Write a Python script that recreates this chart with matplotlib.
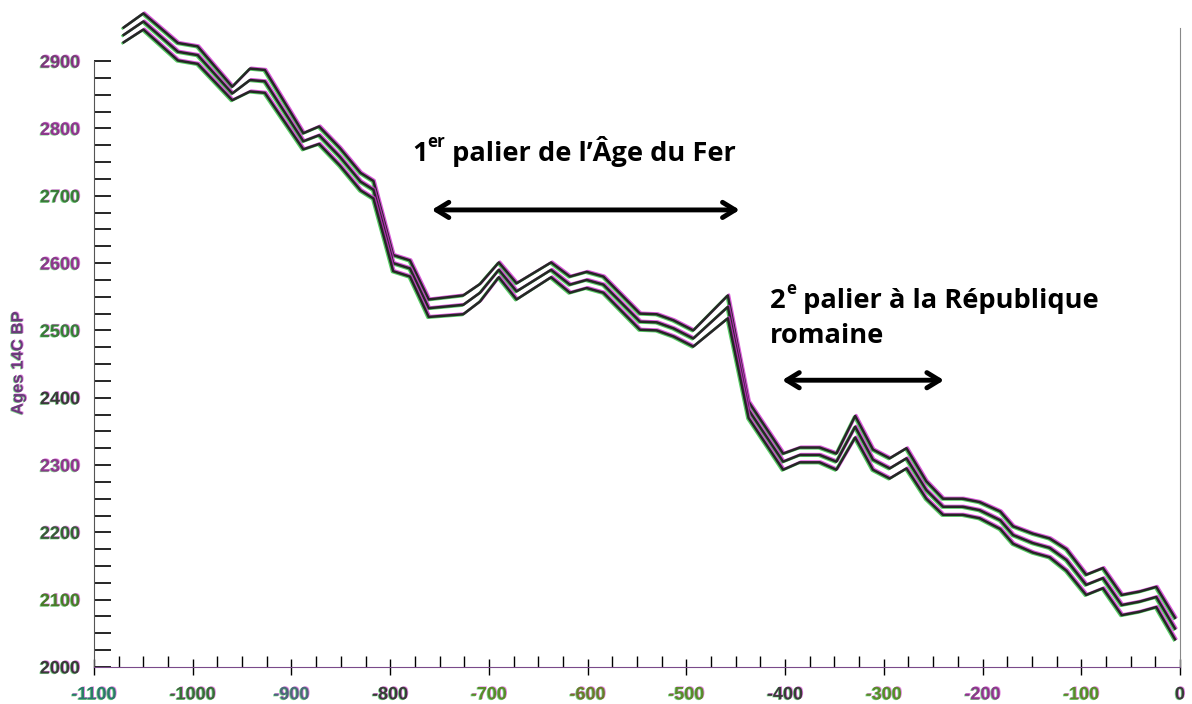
import numpy as np
import matplotlib.pyplot as plt
import matplotlib.patheffects as pe
from matplotlib.ticker import MultipleLocator

# calibration curve, 1st millennium BC (calendar year, 14C age BP, 1 sigma)
years = [-1070, -1050, -1015, -995, -960, -942, -927, -888, -872, -851,
         -830, -817, -797, -780, -761, -726, -709, -690, -672, -637,
         -618, -601, -584, -547, -530, -513, -493, -458, -437, -402,
         -385, -365, -348, -329, -311, -294, -277, -257, -240, -220,
         -203, -182, -169, -149, -132, -115, -95, -78, -59, -41,
         -24, -5]
age_bp = [2939, 2959, 2914, 2909, 2852, 2872, 2870, 2781, 2790, 2758,
          2721, 2709, 2600, 2592, 2533, 2538, 2556, 2590, 2558, 2590,
          2568, 2575, 2568, 2513, 2512, 2503, 2488, 2535, 2382, 2305,
          2315, 2315, 2305, 2357, 2308, 2295, 2310, 2263, 2238, 2238,
          2233, 2218, 2196, 2184, 2177, 2159, 2122, 2132, 2092, 2097,
          2104, 2057]
sigma = [11, 12, 13, 13, 10, 17, 17, 12, 13, 13,
         13, 13, 12, 12, 13, 14, 13, 11, 12, 11,
         12, 12, 12, 12, 12, 12, 12, 17, 12, 12,
         11, 11, 12, 16, 15, 15, 15, 13, 12, 12,
         12, 13, 13, 14, 14, 16, 15, 15, 15, 15,
         15, 16]

y_ticks = [2000, 2100, 2200, 2300, 2400, 2500, 2600, 2700, 2800, 2900]
x_ticks = [-1100, -1000, -900, -800, -700, -600, -500, -400, -300, -200, -100, 0]

MAGENTA = "#d030d0"
GREEN = "#30c040"

years = np.array(years)
age_bp = np.array(age_bp)
sigma = np.array(sigma)

line_fx = [pe.SimpleLineShadow(offset=(0.8, 0.6), shadow_color=MAGENTA, alpha=0.8),
           pe.SimpleLineShadow(offset=(-0.8, -0.6), shadow_color=GREEN, alpha=0.8),
           pe.Normal()]
text_fx = [pe.SimplePatchShadow(offset=(0.6, 0.4), shadow_rgbFace=MAGENTA, alpha=0.6),
           pe.SimplePatchShadow(offset=(-0.6, -0.4), shadow_rgbFace=GREEN, alpha=0.6),
           pe.Normal()]

fig = plt.figure(figsize=(11.92, 7.04), dpi=100)
ax = fig.add_axes([0.0789, 0.0526, 0.911, 0.937])

for curve in (age_bp + sigma, age_bp, age_bp - sigma):
    ax.plot(years, curve, color="#262626", lw=1.8, path_effects=line_fx, zorder=3)

ax.set_xlim(-1100, 0)
ax.set_ylim(2000, 2980)

# axes
ax.spines["top"].set_visible(False)
ax.spines["left"].set_bounds(2000, 2900)
ax.spines["left"].set_color("#555555")
ax.spines["bottom"].set_color("#7a4a8a")
ax.spines["right"].set_color("#888888")
ax.spines["right"].set_linewidth(0.8)
ax.spines["right"].set_bounds(2000, 2950)

ax.set_xticks(x_ticks)
ax.set_yticks(y_ticks)
ax.xaxis.set_minor_locator(MultipleLocator(25))
ax.yaxis.set_minor_locator(plt.FixedLocator(np.arange(2025, 2900, 25)))
ax.tick_params(axis="y", which="both", direction="in", length=12, width=1.2, pad=10, right=False)
ax.tick_params(axis="x", which="major", direction="inout", length=12, width=1, pad=8)
ax.tick_params(axis="x", which="minor", direction="in", length=8, width=1, top=False)

tick_cols = ["#b060c0", "#80c060", "#8a8a8a", "#c060b0", "#60b0a0", "#9a70a0"]
for i, t in enumerate(ax.yaxis.get_minor_ticks() + ax.yaxis.get_major_ticks()):
    t.tick1line.set_color(tick_cols[i % len(tick_cols)])
for t in ax.xaxis.get_minor_ticks() + ax.xaxis.get_major_ticks():
    t.tick1line.set_color("#555555")

y_label_cols = ["#3a3a3a", "#4a7a2a", "#3a5a3a", "#8a3a8a", "#3a3a3a",
                "#3a7a3a", "#8a3a8a", "#3a7a3a", "#8a3a8a", "#7a3a7a"]
x_label_cols = ["#2a7a6a", "#3a6a3a", "#4a6a7a", "#3a3a3a", "#5a8a2a", "#6a7a2a",
                "#5a8a2a", "#3a3a3a", "#5a8a2a", "#8a3a8a", "#5a8a2a", "#3a3a3a"]
ax.set_yticklabels([str(v) for v in y_ticks])
ax.set_xticklabels([str(v) for v in x_ticks])
for lab, c in zip(ax.get_yticklabels(), y_label_cols):
    lab.set(fontsize=13, fontweight="bold", color=c, family="Liberation Sans", path_effects=text_fx)
for lab, c in zip(ax.get_xticklabels(), x_label_cols):
    lab.set(fontsize=13, fontweight="bold", color=c, family="Liberation Sans", path_effects=text_fx)

ax.set_ylabel("Ages 14C BP", fontsize=12, fontweight="bold", color="#6a3a7a",
              family="Liberation Sans", path_effects=text_fx)
ax.yaxis.set_label_coords(-0.063, 0.46)

NOTE_FONT = ["Open Sans", "DejaVu Sans"]
NOTE_SIZE = 19.6


def superscript_label(x, y, base, sup, rest, size=NOTE_SIZE):
    kw = dict(fontsize=size, fontweight="bold", family=NOTE_FONT, color="black")
    t1 = ax.text(x, y, base, va="bottom", ha="left", **kw)
    t2 = ax.annotate(sup, xy=(1, 0.6), xycoords=t1, va="bottom", ha="left",
                     **{**kw, "fontsize": size * 0.62})
    ax.annotate(rest, xy=(1, 0), xycoords=(t2, t1), va="bottom", ha="left", **kw)


superscript_label(-778, 2743, "1", "er", " palier de l\u2019\u00c2ge du Fer")
superscript_label(-415, 2525, "2", "e", " palier \u00e0 la R\u00e9publique")
ax.text(-415, 2473, "romaine", va="bottom", ha="left", fontsize=NOTE_SIZE, fontweight="bold",
        family=NOTE_FONT, color="black")

arrow = dict(arrowstyle="<->,head_length=0.9,head_width=0.55", lw=3.5, color="black",
             shrinkA=0, shrinkB=0)
ax.annotate("", xy=(-446, 2679), xytext=(-758, 2679), arrowprops=arrow)
ax.annotate("", xy=(-239, 2426), xytext=(-403, 2426), arrowprops=arrow)

fig.savefig("out.png", dpi=100, facecolor="white")
